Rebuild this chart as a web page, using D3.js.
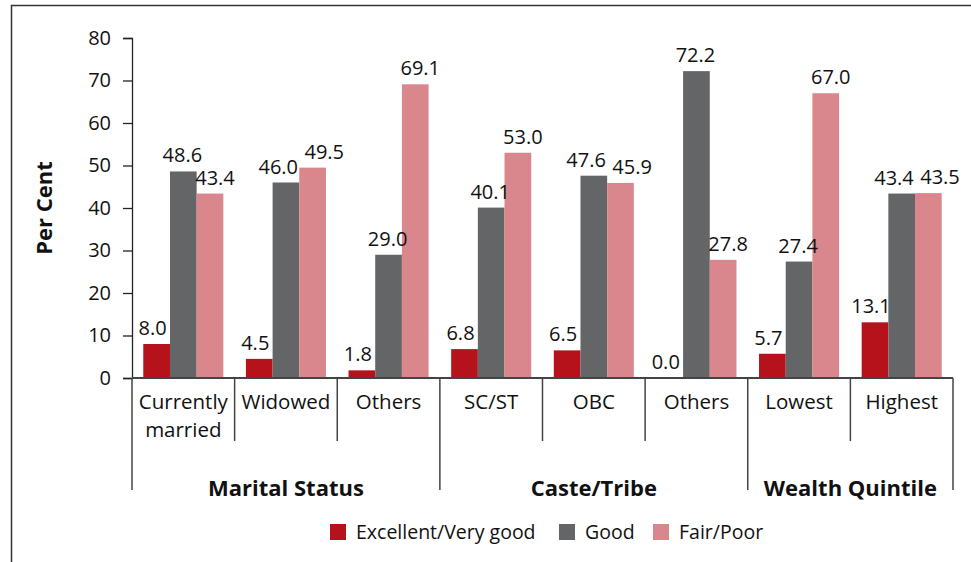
<!DOCTYPE html>
<meta charset="utf-8">
<script src="https://d3js.org/d3.v7.min.js"></script>
<style>
  body { margin: 0; background: #fff; }
  text { font-family: "Open Sans", sans-serif; fill: #111; }
</style>
<div id="my_dataviz"></div>
<script>

// categories and groups
var categories = ["Currently married", "Widowed", "Others", "SC/ST", "OBC", "Others ", "Lowest", "Highest"];
var groups = [
  {name: "Marital Status", from: 0, to: 2},
  {name: "Caste/Tribe", from: 3, to: 5},
  {name: "Wealth Quintile", from: 6, to: 7}
];
var seriesNames = ["Excellent/Very good", "Good", "Fair/Poor"];
var excellent = [8.0, 4.5, 1.8, 6.8, 6.5, 0.0, 5.7, 13.1];
var good      = [48.6, 46.0, 29.0, 40.1, 47.6, 72.2, 27.4, 43.4];
var fairPoor  = [43.4, 49.5, 69.1, 53.0, 45.9, 27.8, 67.0, 43.5];
var yTicks = [0, 10, 20, 30, 40, 50, 60, 70, 80];

var colors = ["#b5121b", "#646567", "#d9868c"];
var labelShift = [-4, -1, 5];

var width = 971, height = 562;
var plotLeft = 132, plotRight = 953, plotBottom = 378, plotTop = 38;

var svg = d3.select("#my_dataviz")
  .append("svg")
    .attr("width", width)
    .attr("height", height);

// frame
svg.append("path")
  .attr("d", "M11.5," + height + "V5.5H" + width)
  .attr("fill", "none")
  .attr("stroke", "#333")
  .attr("stroke-width", 1.5);

var x = d3.scaleBand()
  .domain(categories)
  .range([plotLeft, plotRight])
  .paddingInner(0.22)
  .paddingOuter(0.11);

var xs = d3.scaleBand()
  .domain(seriesNames)
  .range([0, x.bandwidth()]);

var y = d3.scaleLinear()
  .domain([0, 80])
  .range([plotBottom, plotTop]);

// Y axis
var yAxis = svg.append("g")
  .attr("transform", "translate(" + plotLeft + ",0)")
  .call(d3.axisLeft(y).tickValues(yTicks).tickSize(9).tickPadding(12));
yAxis.select(".domain").attr("stroke", "#222").attr("stroke-width", 1.3);
yAxis.selectAll(".tick line").attr("stroke", "#222").attr("stroke-width", 1.3);
yAxis.selectAll("text")
  .style("font-family", "Open Sans, sans-serif")
  .style("font-size", "20px")
  .attr("fill", "#111");

svg.append("text")
  .attr("transform", "translate(52,208) rotate(-90)")
  .attr("text-anchor", "middle")
  .style("font-size", "22px")
  .style("font-weight", "bold")
  .text("Per Cent");

// bars
var data = [excellent, good, fairPoor];
var labelW = 42;
categories.forEach(function(c, i) {
  var labels = data.map(function(vals, s) {
    var bx = x(c) + xs(seriesNames[s]);
    svg.append("rect")
      .attr("x", bx)
      .attr("y", y(vals[i]))
      .attr("width", xs.bandwidth())
      .attr("height", plotBottom - y(vals[i]))
      .attr("fill", colors[s]);
    return {x: bx + xs.bandwidth() / 2 + labelShift[s], y: y(vals[i]) - 9, t: vals[i].toFixed(1)};
  });
  // push apart neighbouring labels at similar heights
  for (var s = 0; s < 2; s++) {
    var a = labels[s], b = labels[s + 1];
    if (Math.abs(a.y - b.y) < 22 && b.x - a.x < labelW + 4) {
      var mid = (a.x + b.x) / 2, half = (labelW + 4) / 2;
      a.x = mid - half; b.x = mid + half;
    }
  }
  labels.forEach(function(l) {
    svg.append("text")
      .attr("x", l.x)
      .attr("y", l.y)
      .attr("text-anchor", "middle")
      .style("font-size", "20px")
      .text(l.t);
  });
});

// x axis line
svg.append("line")
  .attr("x1", plotLeft).attr("x2", plotRight)
  .attr("y1", plotBottom).attr("y2", plotBottom)
  .attr("stroke", "#444").attr("stroke-width", 2);

// separators between categories
var bounds = d3.range(categories.length + 1).map(function(i) {
  return plotLeft + i * (plotRight - plotLeft) / categories.length;
});
var groupEdges = [0];
groups.forEach(function(g) { groupEdges.push(g.to + 1); });
bounds.forEach(function(bx, i) {
  var isLong = groupEdges.indexOf(i) >= 0;
  svg.append("line")
    .attr("x1", bx).attr("x2", bx)
    .attr("y1", plotBottom).attr("y2", isLong ? 490 : 441)
    .attr("stroke", "#444").attr("stroke-width", 1.5);
});

// category labels
categories.forEach(function(c, i) {
  var cx = (bounds[i] + bounds[i + 1]) / 2;
  var words = c.trim() === "Currently married" ? ["Currently", "married"] : [c.trim()];
  words.forEach(function(w, k) {
    svg.append("text")
      .attr("x", cx)
      .attr("y", 409 + k * 28)
      .attr("text-anchor", "middle")
      .style("font-size", "20.5px")
      .text(w);
  });
});

// group labels
groups.forEach(function(g) {
  svg.append("text")
    .attr("x", (bounds[g.from] + bounds[g.to + 1]) / 2)
    .attr("y", 496)
    .attr("text-anchor", "middle")
    .style("font-size", "22px")
    .style("font-weight", "bold")
    .text(g.name);
});

// legend
var legendX = [330, 559, 653];
seriesNames.forEach(function(n, s) {
  svg.append("rect")
    .attr("x", legendX[s]).attr("y", 524)
    .attr("width", 16).attr("height", 16)
    .attr("fill", colors[s]);
  svg.append("text")
    .attr("x", legendX[s] + 26).attr("y", 539)
    .style("font-size", "19.5px")
    .text(n);
});

</script>
